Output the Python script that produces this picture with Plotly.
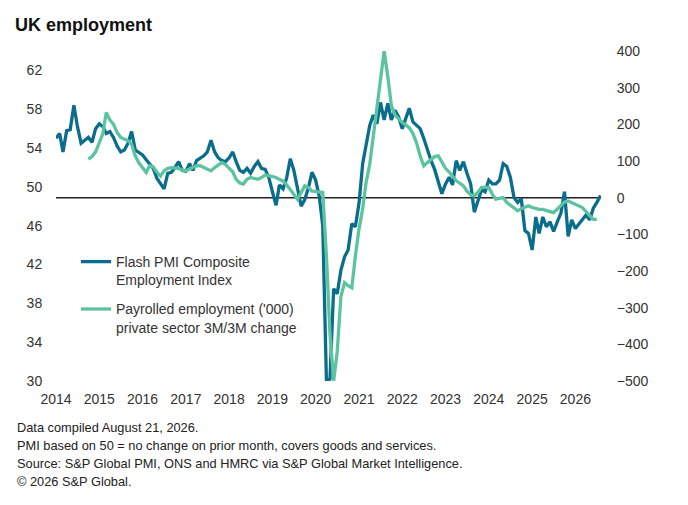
import pandas as pd
import plotly.graph_objects as go

# ---- data ----
pmi_start = "2014-01-01"
pmi_values = [
    55.0, 55.5, 53.6, 55.8, 55.9, 58.4, 56.2, 54.5, 54.8, 55.1, 54.6, 56.0,
    56.5, 56.2, 55.5, 55.7, 55.1, 54.2, 53.6, 53.8, 54.5, 55.7, 53.8, 53.6,
    53.3, 52.8, 52.3, 51.9, 50.9, 50.3, 49.8, 51.4, 51.5, 52.0, 52.6, 51.7,
    51.6, 52.4, 51.7, 52.7, 52.9, 53.2, 53.6, 54.8, 53.6, 53.0, 52.7, 52.6,
    53.0, 53.6, 52.6, 51.7, 51.5, 51.9, 51.4, 52.1, 52.6, 51.9, 51.8, 51.0,
    49.5, 48.1, 50.2, 49.8, 50.9, 52.9, 51.7, 49.7, 48.0, 48.7, 49.9, 51.5,
    50.7, 49.0, 46.0, 30.0, 30.2, 39.5, 39.0, 41.4, 42.8, 43.5, 46.2, 45.9,
    48.3, 52.4, 54.5, 56.3, 57.4, 56.5, 58.7, 56.9, 58.6, 56.9, 57.9, 57.2,
    56.0, 57.0, 58.1, 56.7, 56.3, 56.0, 55.0, 53.8, 52.7, 51.8, 50.6, 49.3,
    50.3, 51.0, 50.2, 52.7, 51.7, 52.6, 51.4, 50.3, 47.4, 48.6, 49.7, 49.5,
    50.7, 50.3, 50.3, 50.7, 52.4, 52.1, 51.0, 48.9, 48.4, 48.8, 45.5, 45.2,
    43.5, 46.9, 45.2, 46.9, 45.9, 46.4, 45.4, 46.4, 47.3, 49.5, 44.9, 46.6,
    45.7, 46.2, 46.6, 47.1, 46.6, 47.8, 48.4, 49.1,
]

payroll_start = "2014-10-01"
payroll_values = [
    105, 112, 125, 150, 175, 232, 212, 200, 178, 164, 160, 155,
    146, 114, 95, 80, 69, 87, 84, 70, 59, 73, 80, 82,
    82, 80, 75, 73, 78, 82, 87, 87, 82, 78, 73, 82,
    90, 96, 90, 80, 70, 50, 40, 37, 50, 55, 52, 50,
    55, 62, 60, 58, 55, 50, 45, 35, 23, 10, -4, 14,
    32, 28, 18, 17, 16, 14, -160, -370, -500, -420, -270, -232,
    -240, -246, -160, -85, -30, 40, 90, 170, 255, 330, 400, 330,
    251, 225, 215, 205, 198, 191, 175, 150, 114, 87, 96, 105,
    112, 114, 95, 80, 70, 59, 46, 40, 32, 18, 8, 5,
    14, 28, 28, 28, 9, -4, -2, 0, -13, -20, -27, -36,
    -30, -25, -22, -27, -30, -32, -32, -34, -38, -41, -32, -22,
    -12, -9, -13, -18, -22, -27, -38, -48, -59, -59,
]

year_labels = [str(y) for y in range(2014, 2027)]
left_ticks = [30, 34, 38, 42, 46, 50, 54, 58, 62]
right_ticks = [-500, -400, -300, -200, -100, 0, 100, 200, 300, 400]

pmi_dates = pd.date_range(pmi_start, periods=len(pmi_values), freq="MS")
payroll_dates = pd.date_range(payroll_start, periods=len(payroll_values), freq="MS")
year_dates = [f"{y}-01-01" for y in year_labels]

BLUE = "#0b6d8c"
GREEN = "#5cc3a0"
FONT = "Liberation Sans, Arial, sans-serif"

OFF = 8  # page body margin
W, H = 688 - OFF, 505 - OFF
L, T = 56 - OFF, 51 - OFF
R = W - (601 - OFF)
B = H - (381 - OFF)
pw, ph = W - L - R, H - T - B

def px_x(x):
    return (x - OFF - L) / pw

def px_y(y):
    return (H - B - (y - OFF)) / ph

fig = go.Figure()
fig.add_trace(go.Scatter(
    x=pmi_dates, y=pmi_values, mode="lines", yaxis="y",
    name="Flash PMI Composite<br>Employment Index",
    line=dict(color=BLUE, width=3.3), legendgroup="a",
))
fig.add_trace(go.Scatter(
    x=payroll_dates, y=payroll_values, mode="lines", yaxis="y2",
    name="Payrolled employment ('000)<br>private sector 3M/3M change",
    line=dict(color=GREEN, width=3.3), legendgroup="b",
))

fig.add_shape(type="line", xref="paper", x0=0, x1=1, yref="y2", y0=0, y1=0,
              line=dict(color="#222222", width=1.5), layer="below")

footnotes = [
    "Data compiled August 21, 2026.",
    "PMI based on 50 = no change on prior month, covers goods and services.",
    "Source: S&P Global PMI, ONS and HMRC via S&P Global Market Intelligence.",
    "\u00a9 2026 S&P Global.",
]
for i, t in enumerate(footnotes):
    fig.add_annotation(text=t, xref="paper", yref="paper",
                       x=px_x(15), y=px_y(427 + 18 * i),
                       xanchor="left", yanchor="middle", showarrow=False,
                       font=dict(family=FONT, size=12.8, color="#222222"))

fig.update_layout(
    width=W, height=H,
    margin=dict(l=L, r=R, t=T, b=B),
    paper_bgcolor="white", plot_bgcolor="white",
    font=dict(family=FONT, size=14, color="#333333"),
    title=dict(text="<b>UK employment</b>", xref="container", yref="container",
               x=(15 - OFF) / W, y=1 - (25 - OFF) / H, xanchor="left", yanchor="middle",
               font=dict(family=FONT, size=18, color="#111111")),
    xaxis=dict(type="date", range=["2014-01-01", "2026-08-05"],
               tickvals=year_dates, ticktext=year_labels,
               showgrid=False, zeroline=False, showline=False,
               ticks="outside", ticklen=5, tickcolor="rgba(0,0,0,0)",
               tickfont=dict(size=14, color="#333333")),
    yaxis=dict(range=[30, 64], tickvals=left_ticks,
               showgrid=False, zeroline=False, showline=False,
               ticks="outside", ticklen=10, tickcolor="rgba(0,0,0,0)",
               tickfont=dict(size=14, color="#333333")),
    yaxis2=dict(range=[-500, 400], tickvals=right_ticks, overlaying="y", side="right",
                showgrid=False, zeroline=False, showline=False,
                ticks="outside", ticklen=12, tickcolor="rgba(0,0,0,0)",
                tickfont=dict(size=14, color="#333333")),
    legend=dict(x=px_x(76), y=px_y(246), xanchor="left", yanchor="top",
                bgcolor="rgba(0,0,0,0)", valign="top", tracegroupgap=8,
                font=dict(family=FONT, size=14, color="#333333")),
    showlegend=True,
)

fig.write_html("out.html")
